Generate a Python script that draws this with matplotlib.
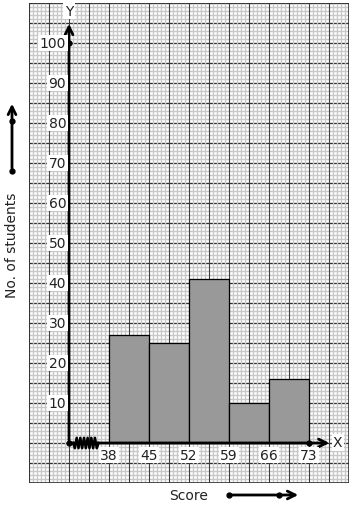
import numpy as np
import matplotlib.pyplot as plt
from matplotlib.patches import FancyArrowPatch

# class intervals and frequencies
class_edges = [38, 45, 52, 59, 66, 73]
students = [27, 25, 41, 10, 16]
y_ticks = [10, 20, 30, 40, 50, 60, 70, 80, 90, 100]

# graph-paper units: 1 small square = 1 unit, each class drawn 10 units wide
class_width = 10
x_start = 10

fig = plt.figure(figsize=(3.54, 5.10), dpi=100)
ax = fig.add_axes([29 / 354, 26 / 510, 320 / 354, 480 / 510])
ax.set_xlim(-10, 70)
ax.set_ylim(-10, 110)
ax.axis("off")

# graph paper (horizontal major lines sit under the minor verticals -> dashed look)
for h in range(-10, 111):
    ax.axhline(h, color="#c8c8c8", lw=1.0, zorder=1)
for h in range(-10, 111, 5):
    ax.axhline(h, color="#303030", lw=0.9, zorder=1.5)
for v in range(-10, 71):
    if v % 5:
        ax.axvline(v, color="#c8c8c8", lw=1.0, zorder=2)
for v in range(-10, 71, 5):
    ax.axvline(v, color="#404040", lw=0.8, zorder=2.5)
ax.plot([-10, 70, 70, -10, -10], [-10, -10, 110, 110, -10], color="#333333", lw=1.2, zorder=2.6)

# bars
lefts = [x_start + i * class_width for i in range(len(students))]
ax.bar(lefts, students, width=class_width, align="edge", color="#999999",
       edgecolor="black", linewidth=0.9, zorder=3)

# axes lines
ax.annotate("", xy=(65.8, 0), xytext=(0, 0),
            arrowprops=dict(arrowstyle="->", lw=2, color="black", mutation_scale=14), zorder=5)
ax.annotate("", xy=(0, 105.5), xytext=(0, 0),
            arrowprops=dict(arrowstyle="->", lw=2, color="black", mutation_scale=14), zorder=5)
ax.plot([0, 0, 60], [0, 100, 0], "o", color="black", ms=3.5, zorder=6)

# kink on x axis
zx = np.linspace(1, 7.4, 15)
zy = np.tile([1.3, -1.3], 8)[:15]
zy[0] = 0
zy[-1] = 0
ax.plot(zx, zy, color="black", lw=1.8, zorder=6)

box = dict(boxstyle="square,pad=0.1", fc="white", ec="none")
for t in y_ticks:
    ax.text(-0.7, t, str(t), ha="right", va="center", fontsize=10, color="#222222", bbox=box, zorder=7)
for i, e in enumerate(class_edges):
    ax.text(x_start + i * class_width, -3, str(e), ha="center", va="center",
            fontsize=10, color="#222222", bbox=box, zorder=7)
ax.text(0, 108, "Y", ha="center", va="center", fontsize=10, color="#222222", bbox=box, zorder=7)
ax.text(67.2, 0.2, "X", ha="center", va="center", fontsize=10, color="#222222", bbox=box, zorder=7)

# axis titles with direction arrows
fig.text(12 / 354, 1 - 245 / 510, "No. of students", rotation=90, ha="center", va="center",
         fontsize=10, color="#222222")
fig.text(189 / 354, 1 - 496 / 510, "Score", ha="center", va="center", fontsize=10, color="#222222")

fig.patches.append(FancyArrowPatch((12 / 354, 1 - 172 / 510), (12 / 354, 1 - 102 / 510),
                                   transform=fig.transFigure, arrowstyle="->", lw=2,
                                   mutation_scale=14, color="black"))
fig.patches.append(FancyArrowPatch((229 / 354, 1 - 496 / 510), (301 / 354, 1 - 496 / 510),
                                   transform=fig.transFigure, arrowstyle="->", lw=2,
                                   mutation_scale=14, color="black"))
fig.lines.append(plt.Line2D([12 / 354, 12 / 354], [1 - 172 / 510, 1 - 122 / 510], marker="o",
                            ls="none", ms=3.5, color="black", transform=fig.transFigure))
fig.lines.append(plt.Line2D([229 / 354, 279 / 354], [1 - 496 / 510, 1 - 496 / 510], marker="o",
                            ls="none", ms=3.5, color="black", transform=fig.transFigure))

fig.savefig("out.png", dpi=100, facecolor="white")
